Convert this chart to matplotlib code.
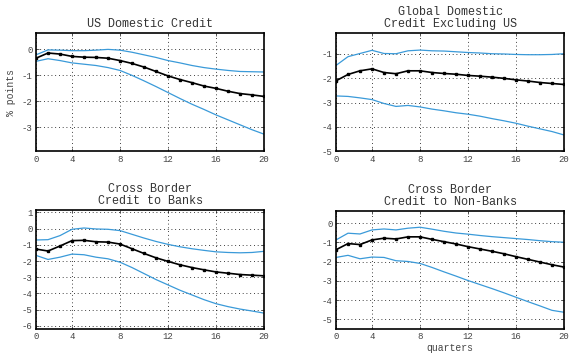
import numpy as np
import matplotlib
matplotlib.use("Agg")
import matplotlib.pyplot as plt

plt.rcParams["font.family"] = ["Liberation Mono", "DejaVu Sans Mono"]

# Impulse responses over a 20-quarter horizon
horizon = list(range(1, 21))
tick_pos = [1, 4, 8, 12, 16, 20]
tick_labels = ["0", "4", "8", "12", "16", "20"]

us_mid = [-0.35, -0.15, -0.19, -0.28, -0.31, -0.32, -0.35, -0.44, -0.55, -0.69,
          -0.86, -1.03, -1.17, -1.29, -1.42, -1.51, -1.62, -1.71, -1.76, -1.82]
us_hi = [-0.22, -0.03, -0.04, -0.06, -0.06, -0.04, -0.01, -0.04, -0.12, -0.22,
         -0.32, -0.44, -0.53, -0.63, -0.71, -0.77, -0.82, -0.86, -0.87, -0.88]
us_lo = [-0.47, -0.37, -0.44, -0.53, -0.58, -0.63, -0.71, -0.82, -1.01, -1.22,
         -1.44, -1.67, -1.90, -2.12, -2.32, -2.53, -2.72, -2.91, -3.10, -3.27]

gl_mid = [-2.11, -1.85, -1.70, -1.62, -1.77, -1.82, -1.70, -1.70, -1.77, -1.81,
          -1.84, -1.89, -1.92, -1.96, -2.01, -2.07, -2.12, -2.18, -2.22, -2.26]
gl_hi = [-1.48, -1.12, -0.99, -0.86, -0.99, -1.00, -0.88, -0.85, -0.88, -0.89,
         -0.92, -0.95, -0.97, -1.00, -1.01, -1.03, -1.04, -1.04, -1.03, -1.00]
gl_lo = [-2.73, -2.75, -2.81, -2.88, -3.04, -3.16, -3.12, -3.18, -3.27, -3.34,
         -3.42, -3.48, -3.56, -3.66, -3.75, -3.85, -3.97, -4.08, -4.19, -4.33]

cb_mid = [-1.26, -1.38, -1.07, -0.74, -0.72, -0.81, -0.83, -0.95, -1.24, -1.53,
          -1.80, -2.02, -2.23, -2.40, -2.54, -2.67, -2.75, -2.83, -2.87, -2.91]
cb_hi = [-0.70, -0.68, -0.43, -0.04, 0.04, -0.02, -0.04, -0.12, -0.35, -0.58,
         -0.79, -0.97, -1.12, -1.24, -1.34, -1.43, -1.47, -1.49, -1.47, -1.40]
cb_lo = [-1.65, -1.90, -1.76, -1.57, -1.61, -1.76, -1.86, -2.07, -2.40, -2.77,
         -3.14, -3.47, -3.80, -4.09, -4.38, -4.63, -4.81, -4.96, -5.08, -5.21]

nb_mid = [-1.38, -1.06, -1.11, -0.87, -0.78, -0.82, -0.71, -0.71, -0.84, -0.96,
          -1.08, -1.22, -1.34, -1.46, -1.59, -1.74, -1.88, -2.02, -2.16, -2.28]
nb_hi = [-0.87, -0.52, -0.56, -0.35, -0.30, -0.35, -0.26, -0.21, -0.31, -0.42,
         -0.51, -0.57, -0.64, -0.70, -0.75, -0.80, -0.85, -0.91, -0.96, -0.99]
nb_lo = [-1.78, -1.67, -1.85, -1.76, -1.78, -1.95, -1.99, -2.09, -2.30, -2.53,
         -2.75, -2.98, -3.19, -3.40, -3.62, -3.85, -4.08, -4.30, -4.53, -4.63]

titles = ["US Domestic Credit",
          "Global Domestic\nCredit Excluding US",
          "Cross Border\nCredit to Banks",
          "Cross Border\nCredit to Non-Banks"]
panels = [(us_mid, us_hi, us_lo), (gl_mid, gl_hi, gl_lo),
          (cb_mid, cb_hi, cb_lo), (nb_mid, nb_hi, nb_lo)]
ylims = [(-3.93, 0.62), (-5.0, -0.15), (-6.19, 1.15), (-5.5, 0.66)]
yticks = [[-3, -2, -1, 0], [-5, -4, -3, -2, -1],
          [-6, -5, -4, -3, -2, -1, 0, 1], [-5, -4, -3, -2, -1, 0]]

band_color = "#3a9ad9"

fig = plt.figure(figsize=(5.7, 3.54), dpi=100)
W, H = 570.0, 354.0
boxes = [(36, 33, 264, 151.3), (336, 33, 564, 151.3),
         (36, 210, 264, 329), (336, 210.5, 564, 329)]

for i, (mid, hi, lo) in enumerate(panels):
    l, t, r, b = boxes[i]
    ax = fig.add_axes([l / W, 1 - b / H, (r - l) / W, (b - t) / H])
    ax.plot(horizon, hi, color=band_color, lw=0.9)
    ax.plot(horizon, lo, color=band_color, lw=0.9)
    ax.plot(horizon, mid, color="black", lw=1.2, marker="s", ms=2.1)
    ax.set_xlim(1, 20)
    ax.set_ylim(*ylims[i])
    ax.set_xticks(tick_pos)
    ax.set_xticklabels(tick_labels)
    ax.set_yticks(yticks[i])
    ax.set_yticklabels([str(v) for v in yticks[i]])
    ax.grid(True, linestyle=(0, (1, 3.5)), color="black", lw=0.6)
    ax.tick_params(direction="in", length=2.5, width=0.6, labelsize=6.5,
                   top=True, right=True, pad=2.5, colors="#444444",
                   labelcolor="#444444")
    for sp in ax.spines.values():
        sp.set_linewidth(1.2)
    ax.set_title(titles[i], fontsize=8.5, pad=4, linespacing=1.0,
                 color="#333333")
    if i == 0:
        ax.set_ylabel("% points", fontsize=7, labelpad=4, color="#444444")
    if i == 3:
        ax.set_xlabel("quarters", fontsize=7, labelpad=1, color="#444444")

fig.savefig("out.png", dpi=100)
